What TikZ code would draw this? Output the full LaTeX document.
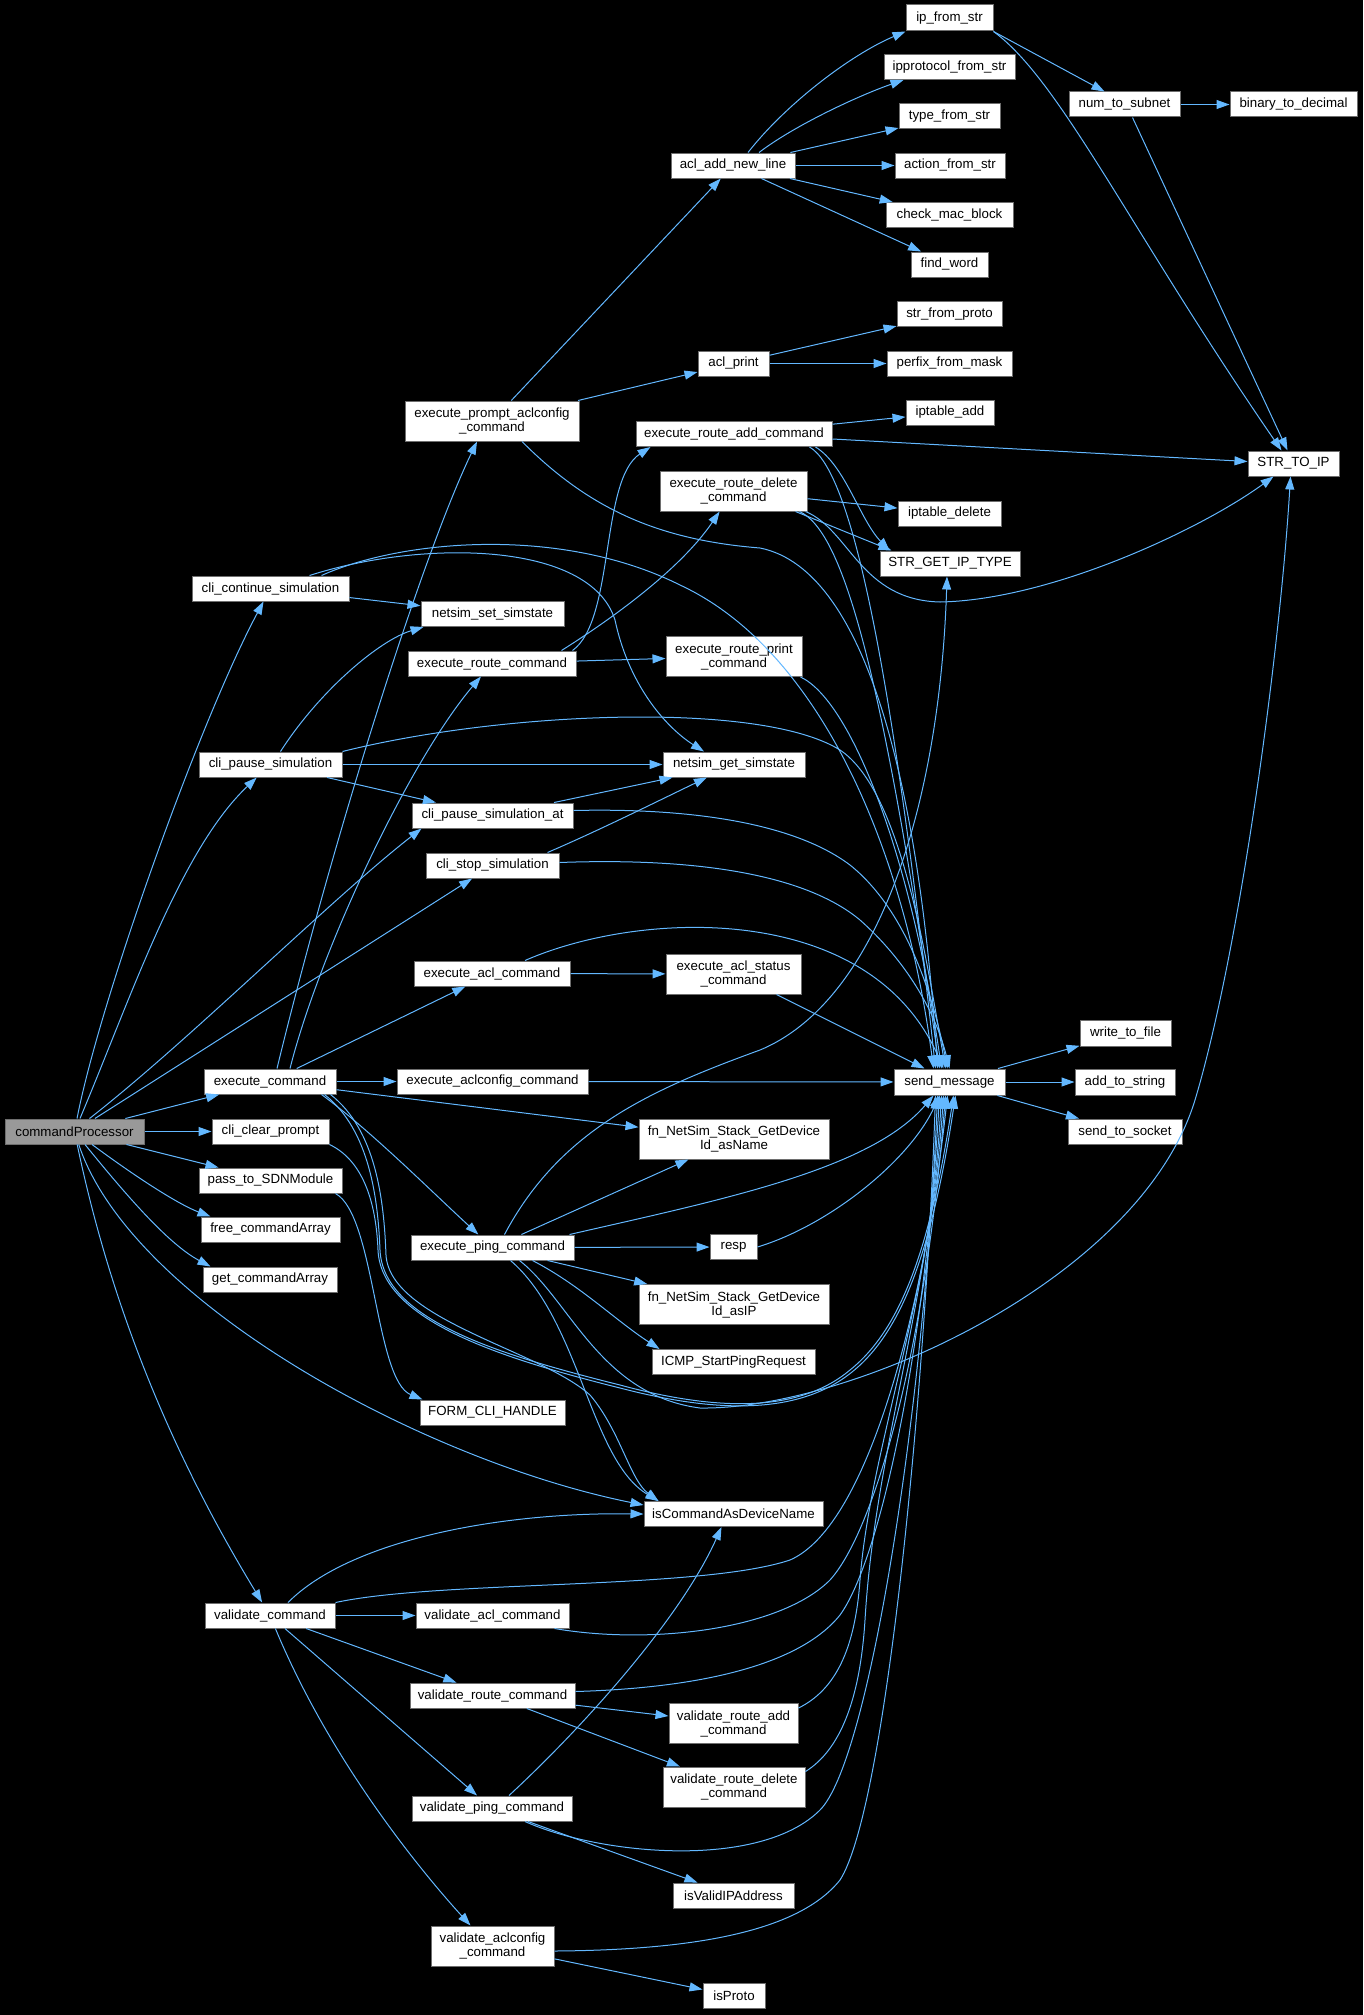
\documentclass[tikz,border=0pt]{standalone}
\usepackage{fontspec}
\setmainfont{Liberation Sans}
\usetikzlibrary{arrows.meta}
\definecolor{eb}{RGB}{99,184,255}
\definecolor{nb}{RGB}{110,110,110}
\definecolor{rootfill}{RGB}{153,153,153}
\begin{document}
\begin{tikzpicture}[x=1pt,y=-1pt,
  nd/.style={draw=nb,fill=white,line width=1pt,minimum height=25pt,inner sep=0pt,font=\fontsize{13.3}{14}\selectfont,align=center,text=black},
  nd2/.style={nd,minimum height=40pt},
  root/.style={nd,fill=rootfill},
  e/.style={draw=eb,line width=1pt,-{Triangle[length=13pt,width=9pt]}}]
\fill[black] (0,0) rectangle (1363,2015);
\useasboundingbox (0,0) rectangle (1363,2015);
% column A
\node[root,minimum width=139pt] (cp) at (74.5,1131.5) {commandProcessor};
% column B
\node[nd,minimum width=157pt] (ccs) at (270.5,588.5) {cli\_continue\_simulation};
\node[nd,minimum width=143pt] (cps) at (270.5,764.5) {cli\_pause\_simulation};
\node[nd,minimum width=132pt] (ec) at (270,1081.5) {execute\_command};
\node[nd,minimum width=117pt] (clp) at (270.5,1131.5) {cli\_clear\_prompt};
\node[nd,minimum width=143pt] (pts) at (270.5,1180.5) {pass\_to\_SDNModule};
\node[nd,minimum width=139pt] (fca) at (270.5,1229.5) {free\_commandArray};
\node[nd,minimum width=134pt] (gca) at (270,1279.5) {get\_commandArray};
\node[nd,minimum width=130pt] (vc) at (270,1615.5) {validate\_command};
% column C
\node[nd2,minimum width=174pt] (epac) at (492,421) {execute\_prompt\_aclconfig\\\_command};
\node[nd,minimum width=143pt] (nss) at (492.5,614) {netsim\_set\_simstate};
\node[nd,minimum width=168pt] (erc) at (492,663.5) {execute\_route\_command};
\node[nd,minimum width=161pt] (cpsa) at (492.5,815.5) {cli\_pause\_simulation\_at};
\node[nd,minimum width=133pt] (css) at (492.5,865.5) {cli\_stop\_simulation};
\node[nd,minimum width=156pt] (eac) at (492,973.5) {execute\_acl\_command};
\node[nd,minimum width=191pt] (eaclc) at (492.5,1081.5) {execute\_aclconfig\_command};
\node[nd,minimum width=163pt] (epc) at (492.5,1247.5) {execute\_ping\_command};
\node[nd,minimum width=145pt] (fch) at (492.5,1412.5) {FORM\_CLI\_HANDLE};
\node[nd,minimum width=153pt] (vac) at (492.5,1615.5) {validate\_acl\_command};
\node[nd,minimum width=165pt] (vrc) at (492.5,1695.5) {validate\_route\_command};
\node[nd,minimum width=160pt] (vpc) at (492,1808.5) {validate\_ping\_command};
\node[nd2,minimum width=123pt] (vacc) at (492.5,1946) {validate\_aclconfig\\\_command};
% column D
\node[nd,minimum width=124pt] (aanl) at (733,165.5) {acl\_add\_new\_line};
\node[nd,minimum width=71pt] (aclp) at (733.5,363.5) {acl\_print};
\node[nd,minimum width=196pt] (erac) at (734,434) {execute\_route\_add\_command};
\node[nd2,minimum width=147pt] (erdc) at (733.5,491) {execute\_route\_delete\\\_command};
\node[nd2,minimum width=136pt] (erpc) at (734,656.5) {execute\_route\_print\\\_command};
\node[nd,minimum width=142pt] (ngs) at (734,764.5) {netsim\_get\_simstate};
\node[nd2,minimum width=135pt] (eascs) at (733.5,974) {execute\_acl\_status\\\_command};
\node[nd2,minimum width=190pt] (fnn) at (734,1139) {fn\_NetSim\_Stack\_GetDevice\\Id\_asName};
\node[nd,minimum width=47pt] (resp) at (733.5,1247) {resp};
\node[nd2,minimum width=190pt] (fni) at (734,1304.5) {fn\_NetSim\_Stack\_GetDevice\\Id\_asIP};
\node[nd,minimum width=163pt] (icmp) at (733.5,1362) {ICMP\_StartPingRequest};
\node[nd,minimum width=179pt] (ican) at (733.5,1514) {isCommandAsDeviceName};
\node[nd2,minimum width=129pt] (vrac) at (733.5,1723.5) {validate\_route\_add\\\_command};
\node[nd2,minimum width=142pt] (vrdc) at (734,1787) {validate\_route\_delete\\\_command};
\node[nd,minimum width=121pt] (ivip) at (733.5,1895.5) {isValidIPAddress};
\node[nd,minimum width=62pt] (isp) at (734,1996) {isProto};
% column E
\node[nd,minimum width=87pt,minimum height=26pt] (ifs) at (949.5,18) {ip\_from\_str};
\node[nd,minimum width=131pt] (ipfs) at (949.5,67) {ipprotocol\_from\_str};
\node[nd,minimum width=101pt] (tfs) at (949.5,116.5) {type\_from\_str};
\node[nd,minimum width=110pt] (afs) at (950,165.5) {action\_from\_str};
\node[nd,minimum width=127pt] (cmb) at (949.5,215) {check\_mac\_block};
\node[nd,minimum width=77pt] (fw) at (949.5,264.5) {find\_word};
\node[nd,minimum width=105pt] (sfp) at (949.5,314) {str\_from\_proto};
\node[nd,minimum width=125pt] (pfm) at (949.5,363.5) {perfix\_from\_mask};
\node[nd,minimum width=88pt] (ita) at (950,412.5) {iptable\_add};
\node[nd,minimum width=103pt] (itd) at (949.5,513.5) {iptable\_delete};
\node[nd,minimum width=140pt] (sgit) at (950,563.5) {STR\_GET\_IP\_TYPE};
\node[nd,minimum width=111pt,minimum height=26pt] (sm) at (949.5,1082) {send\_message};
% column F
\node[nd,minimum width=111pt] (nts) at (1124.5,104.5) {num\_to\_subnet};
\node[nd,minimum width=91pt,minimum height=26pt] (wtf) at (1125.5,1033) {write\_to\_file};
\node[nd,minimum width=100pt,minimum height=26pt] (ats) at (1125,1082) {add\_to\_string};
\node[nd,minimum width=114pt] (sts) at (1125,1131.5) {send\_to\_socket};
% column G
\node[nd,minimum width=127pt] (btd) at (1293.5,104.5) {binary\_to\_decimal};
\node[nd,minimum width=91pt] (stip) at (1293.5,463.5) {STR\_TO\_IP};

% ---- edges: top area
\draw[e] ([xshift=15pt]aanl.north) .. controls (785,105) and (850,55) .. (ifs.south west);
\draw[e] ([xshift=26pt]aanl.north) .. controls (795,125) and (860,95) .. ([xshift=20pt]ipfs.south west);
\draw[e] (aanl) -- (tfs);
\draw[e] (aanl) -- (afs);
\draw[e] (aanl) -- (cmb);
\draw[e] (aanl) -- (fw);
\draw[e] (ifs.south east) -- ([xshift=-20pt]nts.north);
\draw[e] (ifs.south east) .. controls (1060,80) and (1130,230) .. ([xshift=-12pt]stip.north);
\draw[e] (nts) -- (btd);
\draw[e] ([xshift=8pt]nts.south) -- ([xshift=-6pt]stip.north);
\draw[e] (aclp) -- (sfp);
\draw[e] (aclp) -- (pfm);
\draw[e] (epac) -- (aanl);
\draw[e] (epac) -- (aclp);
\draw[e] ([xshift=30pt]epac.south) .. controls (590,510) and (660,540) .. (760,548) .. controls (870,570) and (920,800) .. ([xshift=-12pt]sm.north);
% route commands
\draw[e] (erac) -- (ita);
\draw[e] ([yshift=-5pt]erac.east) -- ([yshift=2pt]stip.west);
\draw[e] ([xshift=-17pt]erac.south east) .. controls (845,465) and (860,520) .. ([xshift=10pt]sgit.north west);
\draw[e] ([xshift=-23pt]erac.south east) .. controls (850,470) and (890,650) .. ([xshift=-14pt]sm.north);
\draw[e] (erdc) -- (itd);
\draw[e] ([xshift=-12pt]erdc.south east) -- ([xshift=12pt]sgit.north west);
\draw[e] ([xshift=-2pt]erdc.south east) .. controls (850,530) and (860,600) .. (940,602) .. controls (1050,600) and (1200,530) .. ([xshift=-20pt]stip.south);
\draw[e] ([xshift=-8pt]erdc.south east) .. controls (840,530) and (880,650) .. ([xshift=-10pt]sm.north);
\draw[e] ([xshift=-4pt]erc.north east) .. controls (615,620) and (600,480) .. ([xshift=15pt]erac.south west);
\draw[e] ([xshift=-15pt]erc.north east) .. controls (610,620) and (680,570) .. (erdc);
\draw[e] (erc) -- (erpc);
\draw[e] ([xshift=-2pt]erpc.south east) .. controls (850,700) and (910,850) .. ([xshift=-8pt]sm.north);
% simulation control
\draw[e] (ccs) -- (nss);
\draw[e] ([xshift=-40pt]ccs.north east) .. controls (420,540) and (590,540) .. (615,620) .. controls (630,690) and (670,730) .. ([xshift=-30pt]ngs.north);
\draw[e] ([xshift=-28pt]ccs.north east) .. controls (400,540) and (560,525) .. (680,585) .. controls (820,650) and (905,850) .. ([xshift=-16pt]sm.north);
\draw[e] ([xshift=10pt]cps.north) .. controls (320,690) and (380,640) .. ([xshift=3pt]nss.south west);
\draw[e] (cps) -- (ngs);
\draw[e] (cps) -- (cpsa);
\draw[e] (cps.north east) .. controls (500,712) and (760,700) .. (840,750) .. controls (900,790) and (925,950) .. ([xshift=-4pt]sm.north);
\draw[e] (cpsa) -- (ngs);
\draw[e] ([yshift=5pt]cpsa.east) .. controls (680,808) and (790,820) .. (850,865) .. controls (900,905) and (930,980) .. ([xshift=-2pt]sm.north);
\draw[e] ([xshift=-12pt]css.north east) .. controls (600,830) and (660,800) .. (ngs);
\draw[e] ([yshift=3pt]css.east) .. controls (680,858) and (800,870) .. (860,920) .. controls (905,960) and (935,1010) .. (sm.north);
% acl
\draw[e] (eac) -- (eascs);
\draw[e] ([xshift=33pt]eac.north) .. controls (640,910) and (870,900) .. ([xshift=-6pt]sm.north);
\draw[e] ([xshift=-25pt]eascs.south east) -- ([xshift=-25pt]sm.north);
\draw[e] (eaclc) -- (sm);
\draw[e] (sm) -- (wtf);
\draw[e] (sm) -- (ats);
\draw[e] (sm) -- (sts);
% execute_command
\draw[e] (ec) -- (eaclc);
\draw[e] (ec) -- (fnn);
\draw[e] (ec) -- (eac);
\draw[e] ([xshift=7pt]ec.north) .. controls (330,850) and (420,560) .. ([xshift=-15pt]epac.south);
\draw[e] ([xshift=20pt]ec.north) .. controls (320,950) and (410,760) .. (erc);
\draw[e] ([xshift=-15pt]ec.south east) .. controls (370,1130) and (430,1190) .. (epc);
\draw[e] ([xshift=-12pt]ec.south east) .. controls (370,1130) and (378,1200) .. (380,1250) .. controls (383,1320) and (500,1355) .. (620,1385) .. controls (720,1412) and (800,1412) .. (850,1370) .. controls (900,1330) and (930,1250) .. ([xshift=4pt]sm.south);
\draw[e] ([xshift=-6pt]ec.south east) .. controls (376,1130) and (384,1200) .. (386,1255) .. controls (390,1320) and (540,1350) .. (590,1395) .. controls (620,1430) and (630,1480) .. ([xshift=15pt]ican.north west);
\draw[e] (clp.south east) .. controls (362,1160) and (376,1200) .. (378,1250) .. controls (381,1320) and (500,1358) .. (620,1388) .. controls (720,1414) and (800,1414) .. (852,1372) .. controls (902,1332) and (932,1250) .. ([xshift=6pt]sm.south);
\draw[e] ([xshift=-7pt]pts.south east) .. controls (375,1215) and (375,1380) .. ([xshift=3pt]fch.north west);
% ping
\draw[e] ([xshift=12pt]epc.north) .. controls (560,1130) and (650,1090) .. (760,1050) .. controls (880,1000) and (940,800) .. ([xshift=-3pt]sgit.south);
\draw[e] (epc) -- (fnn);
\draw[e] ([xshift=-5pt]epc.north east) .. controls (720,1200) and (870,1170) .. ([xshift=-16pt]sm.south);
\draw[e] (epc) -- (resp);
\draw[e] (resp.east) .. controls (830,1225) and (910,1160) .. ([xshift=-10pt]sm.south);
\draw[e] (epc) -- (fni);
\draw[e] ([xshift=40pt]epc.south) .. controls (580,1285) and (615,1320) .. ([xshift=8pt]icmp.north west);
\draw[e] ([xshift=18pt]epc.south) .. controls (580,1320) and (590,1460) .. ([xshift=15pt]ican.north west);
\draw[e] ([xshift=27pt]epc.south) .. controls (570,1300) and (600,1395) .. (700,1408) .. controls (850,1410) and (1140,1280) .. (1195,1100) .. controls (1240,950) and (1280,650) .. ([xshift=-3pt]stip.south);
% commandProcessor
\draw[e] (cp) .. controls (100,1000) and (200,720) .. (ccs);
\draw[e] (cp) .. controls (130,1000) and (180,850) .. (cps);
\draw[e] ([xshift=15pt]cp.north) .. controls (190,1040) and (330,900) .. ([xshift=10pt]cpsa.south west);
\draw[e] (cp) -- (css);
\draw[e] (cp) -- (ec);
\draw[e] (cp) -- (clp);
\draw[e] (cp) -- (pts);
\draw[e] (cp) .. controls (140,1180) and (180,1205) .. ([xshift=10pt]fca.north west);
\draw[e] (cp) .. controls (130,1200) and (170,1245) .. ([xshift=8pt]gca.north west);
\draw[e] (cp) .. controls (130,1300) and (420,1460) .. ([yshift=9pt]ican.west);
\draw[e] (cp) .. controls (120,1350) and (200,1500) .. (vc);
% validate
\draw[e] ([xshift=18pt]vc.north) .. controls (350,1540) and (500,1512) .. (ican.west);
\draw[e] (vc.north east) .. controls (440,1580) and (700,1590) .. (790,1560) .. controls (870,1525) and (925,1300) .. ([xshift=-2pt]sm.south);
\draw[e] (vc) -- (vac);
\draw[e] (vc) -- (vrc);
\draw[e] (vc) -- (vpc);
\draw[e] (vc) .. controls (330,1760) and (420,1870) .. ([xshift=-22pt]vacc.north);
\draw[e] ([xshift=-15pt]vac.south east) .. controls (650,1645) and (780,1630) .. (830,1580) .. controls (875,1530) and (925,1350) .. ([xshift=-4pt]sm.south);
\draw[e] ([yshift=4pt]vrc.east) .. controls (700,1688) and (800,1665) .. (840,1615) .. controls (880,1560) and (925,1350) .. ([xshift=-10pt]sm.south);
\draw[e] (vrc) -- (vrac);
\draw[e] (vrc) -- (vrdc);
\draw[e] ([yshift=-5pt]vrac.north east) .. controls (835,1690) and (855,1650) .. (860,1580) .. controls (870,1450) and (930,1300) .. ([xshift=-6pt]sm.south);
\draw[e] ([yshift=-5pt]vrdc.north east) .. controls (840,1750) and (860,1700) .. (865,1620) .. controls (875,1450) and (930,1300) .. ([xshift=-8pt]sm.south);
\draw[e] ([xshift=17pt]vpc.north) .. controls (580,1730) and (680,1620) .. ([xshift=-12pt]ican.south);
\draw[e] ([xshift=33pt]vpc.south) .. controls (600,1855) and (760,1870) .. (820,1810) .. controls (870,1760) and (925,1400) .. ([xshift=-12pt]sm.south);
\draw[e] (vpc) -- (ivip);
\draw[e] ([yshift=-5pt]vacc.east) .. controls (700,1950) and (800,1930) .. (840,1880) .. controls (885,1810) and (925,1400) .. ([xshift=-14pt]sm.south);
\draw[e] (vacc) -- (isp);
\end{tikzpicture}
\end{document}
